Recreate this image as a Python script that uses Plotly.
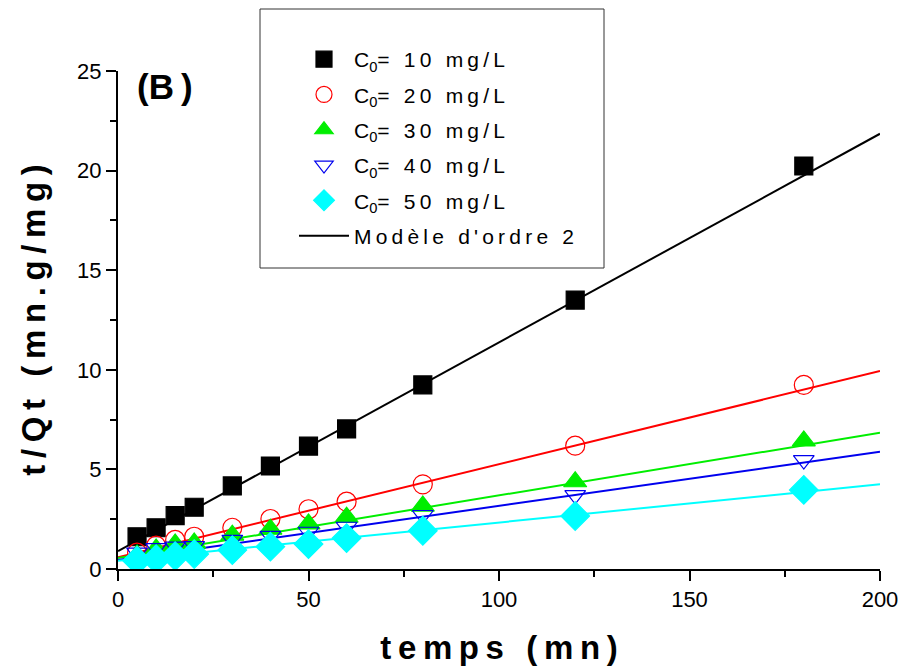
import plotly.graph_objects as go

t = [5, 10, 15, 20, 30, 40, 50, 60, 80, 120, 180]
c10 = [1.62, 2.07, 2.68, 3.10, 4.17, 5.17, 6.17, 7.03, 9.24, 13.5, 20.23]
c20 = [0.82, 1.17, 1.46, 1.62, 2.07, 2.51, 3.00, 3.38, 4.25, 6.19, 9.24]
c30 = [0.70, 1.00, 1.25, 1.30, 1.70, 2.00, 2.26, 2.60, 3.16, 4.38, 6.43]
c40 = [0.82, 1.05, 1.12, 1.15, 1.46, 1.66, 1.87, 2.12, 2.71, 3.71, 5.47]
c50 = [0.42, 0.49, 0.65, 0.75, 0.95, 1.12, 1.25, 1.55, 1.92, 2.66, 3.97]

fit_t = [0, 200]
fit10 = [0.90, 21.85]
fit20 = [0.59, 9.94]
fit30 = [0.55, 6.84]
fit40 = [0.45, 5.89]
fit50 = [0.42, 4.25]

TS = "\u2009"  # thin space used for the wide letter spacing of the original
def spaced(s):
    return TS.join(list(s))

labels = ["C<sub>0</sub>=" + TS + spaced(" 10 mg/L"),
          "C<sub>0</sub>=" + TS + spaced(" 20 mg/L"),
          "C<sub>0</sub>=" + TS + spaced(" 30 mg/L"),
          "C<sub>0</sub>=" + TS + spaced(" 40 mg/L"),
          "C<sub>0</sub>=" + TS + spaced(" 50 mg/L")]
model_label = spaced("Modèle d'ordre 2")

colors = ["#000000", "#ff0000", "#00ee00", "#0000ee", "#00ffff"]
symbols = ["square", "circle-open", "triangle-up", "triangle-down-open", "diamond"]
sizes = [18, 19, 20, 18, 22]

# page is drawn with an 8px body margin, so the figure is sized to fit the window
W, H = 902, 663
L, T = 110, 63          # plot area left/top inside the figure
PW, PH = 762, 498       # plot area size

def px_x(page_x):
    return (page_x - 8 - L) / PW

def px_y(page_y):
    return (T + PH - (page_y - 8)) / PH

fig = go.Figure()
fits = [fit10, fit20, fit30, fit40, fit50]
series = [c10, c20, c30, c40, c50]
for i in range(5):
    fig.add_trace(go.Scatter(x=fit_t, y=fits[i], mode="lines",
                             line=dict(color=colors[i], width=2),
                             showlegend=False, hoverinfo="skip"))
for i in range(5):
    fig.add_trace(go.Scatter(x=t, y=series[i], mode="markers", name=labels[i],
                             legendgroup="g%d" % i,
                             marker=dict(symbol=symbols[i], size=sizes[i], color=colors[i],
                                         line=dict(color=colors[i], width=1.2))))
fig.add_trace(go.Scatter(x=[None], y=[None], mode="lines", name=model_label,
                         legendgroup="g5", line=dict(color="black", width=2)))

axis_common = dict(showline=True, linecolor="black", linewidth=2, ticks="outside",
                   ticklen=10, tickwidth=2, tickcolor="black", showgrid=False,
                   zeroline=False, mirror=False, automargin=False,
                   tickfont=dict(family="Liberation Sans, Arial", size=22, color="black"))

fig.update_xaxes(range=[0, 200], tickvals=[0, 50, 100, 150, 200],
                 minor=dict(tickvals=[25, 75, 125, 175], ticklen=6, tickwidth=2,
                            tickcolor="black", ticks="outside"),
                 title=dict(text="<b>" + spaced("temps (mn)") + "</b>", standoff=24,
                            font=dict(family="Liberation Sans, Arial", size=33, color="black")),
                 **axis_common)
fig.update_yaxes(range=[0, 25], tickvals=[0, 5, 10, 15, 20, 25],
                 minor=dict(tickvals=[2.5, 7.5, 12.5, 17.5, 22.5], ticklen=6, tickwidth=2,
                            tickcolor="black", ticks="outside"),
                 title=dict(text="<b>" + spaced("t/Qt (mn.g/mg)") + "</b>", standoff=22,
                            font=dict(family="Liberation Sans, Arial", size=33, color="black")),
                 **axis_common)

fig.add_annotation(text="<b>(B" + TS + ")</b>", xref="paper", yref="paper",
                   x=px_x(135), y=px_y(65),
                   xanchor="left", yanchor="top", showarrow=False,
                   font=dict(family="Liberation Sans, Arial", size=35, color="black"))

# legend frame
fig.add_shape(type="rect", xref="paper", yref="paper",
              x0=px_x(260), x1=px_x(604), y0=px_y(268), y1=px_y(9),
              line=dict(color="#333333", width=1), fillcolor="rgba(0,0,0,0)", layer="above")

fig.update_layout(
    width=W, height=H,
    margin=dict(l=L, r=W - L - PW, t=T, b=H - T - PH, autoexpand=False),
    plot_bgcolor="white", paper_bgcolor="white",
    legend=dict(x=px_x(294), y=px_y(39), xanchor="left", yanchor="top",
                borderwidth=0, bgcolor="rgba(0,0,0,0)",
                font=dict(family="Liberation Sans, Arial", size=21, color="black"),
                tracegroupgap=5, itemwidth=50),
    showlegend=True,
)

fig.write_html("out.html")
